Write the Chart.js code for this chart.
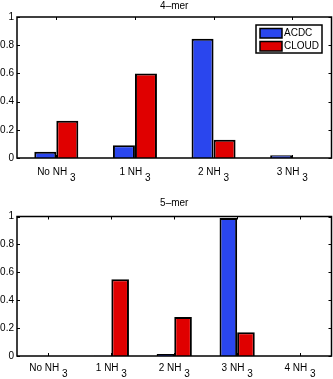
<!DOCTYPE html>
<html>
<head>
<meta charset="utf-8">
<script src="https://cdn.jsdelivr.net/npm/chart.js@4.4.0/dist/chart.umd.min.js"></script>
<style>
  html, body { margin: 0; padding: 0; background: #fff; }
  #wrap { position: relative; width: 333px; height: 379px; overflow: hidden; }
  .box { position: absolute; left: 0; width: 333px; }
</style>
</head>
<body>
<div id="wrap">
  <div class="box" style="top:0;height:190px"><canvas id="grafico1"></canvas></div>
  <div class="box" style="top:190px;height:189px"><canvas id="grafico2"></canvas></div>
</div>
<script>
// dados
const categorias4 = ['No NH', '1 NH', '2 NH', '3 NH'];
const acdc4 = [0.045, 0.09, 0.845, 0.02];
const cloud4 = [0.265, 0.60, 0.13, 0.0];

const categorias5 = ['No NH', '1 NH', '2 NH', '3 NH', '4 NH'];
const acdc5 = [0.0, 0.002, 0.015, 0.99, 0.0];
const cloud5 = [0.0, 0.55, 0.28, 0.17, 0.0];

const subscrito = '3';
const yTicks = [0, 0.2, 0.4, 0.6, 0.8, 1];

const azul = '#2a46ee';
const vermelho = '#e00000';
const fonte = '"Liberation Sans", Arial, sans-serif';

// desenha moldura, ticks internos, rotulos com subscrito, titulo e legenda
const moldura = {
    id: 'moldura',
    afterDraw(chart, args, opts) {
        const ctx = chart.ctx;
        const a = chart.chartArea;
        const x = chart.scales.x;
        const y = chart.scales.y;
        ctx.save();
        ctx.strokeStyle = '#000';
        ctx.lineWidth = 1;
        ctx.beginPath();
        for (const v of yTicks) {
            const py = Math.round(y.getPixelForValue(v)) + 0.5;
            ctx.moveTo(a.left, py); ctx.lineTo(a.left + 3, py);
            ctx.moveTo(a.right, py); ctx.lineTo(a.right - 3, py);
        }
        for (let i = 0; i < chart.data.labels.length; i++) {
            const px = Math.round(x.getPixelForTick(i)) + 0.5;
            ctx.moveTo(px, a.bottom); ctx.lineTo(px, a.bottom - 3);
            ctx.moveTo(px, a.top); ctx.lineTo(px, a.top + 3);
        }
        ctx.stroke();
        ctx.lineWidth = 1.5;
        ctx.strokeRect(a.left, a.top, a.right - a.left, a.bottom - a.top);

        // rotulos do eixo x
        ctx.fillStyle = '#000';
        ctx.font = '10px ' + fonte;
        ctx.textBaseline = 'middle';
        ctx.textAlign = 'left';
        for (let i = 0; i < chart.data.labels.length; i++) {
            const txt = chart.data.labels[i] + ' ';
            const w1 = ctx.measureText(txt).width;
            const w2 = ctx.measureText(subscrito).width;
            const x0 = x.getPixelForTick(i) - (w1 + w2) / 2;
            ctx.fillText(txt, x0, opts.labelY);
            ctx.fillText(subscrito, x0 + w1, opts.labelY + opts.subOffset);
        }

        // titulo
        ctx.textAlign = 'center';
        ctx.fillText(opts.titulo, (a.left + a.right) / 2, opts.tituloY);

        // legenda
        if (opts.legenda) {
            const L = opts.legenda;
            ctx.fillStyle = '#fff';
            ctx.fillRect(L.x, L.y, L.w, L.h);
            ctx.lineWidth = 1.5;
            ctx.strokeRect(L.x, L.y, L.w, L.h);
            ctx.textAlign = 'left';
            chart.data.datasets.forEach(function (ds, k) {
                const sy = L.y + 3.5 + k * 13;
                ctx.fillStyle = ds.backgroundColor;
                ctx.fillRect(L.x + 4, sy, 22, 9.5);
                ctx.lineWidth = 1.5;
                ctx.strokeRect(L.x + 4, sy, 22, 9.5);
                ctx.fillStyle = '#000';
                ctx.fillText(ds.label, L.x + 28, sy + 5);
            });
        }
        ctx.restore();
    }
};

function criarGrafico(id, labels, acdc, cloud, cfg) {
    return new Chart(document.getElementById(id), {
        type: 'bar',
        data: {
            labels: labels,
            datasets: [
                { label: 'ACDC', data: acdc, backgroundColor: azul, borderColor: '#000', borderWidth: 2 },
                { label: 'CLOUD', data: cloud, backgroundColor: vermelho, borderColor: '#000', borderWidth: 2 }
            ]
        },
        options: {
            responsive: true,
            maintainAspectRatio: false,
            animation: false,
            categoryPercentage: 0.56,
            barPercentage: 1,
            layout: { padding: { top: cfg.top, right: 1.5, left: 0, bottom: 0 } },
            plugins: {
                legend: { display: false },
                tooltip: { enabled: false },
                moldura: cfg
            },
            scales: {
                x: {
                    grid: { display: false },
                    border: { display: false },
                    ticks: { display: false },
                    afterFit: function (s) { s.height = cfg.xHeight; }
                },
                y: {
                    min: 0,
                    max: 1,
                    grid: { display: false, drawTicks: false },
                    border: { display: false },
                    afterBuildTicks: function (s) { s.ticks = yTicks.map(v => ({ value: v })); },
                    ticks: {
                        padding: 3,
                        color: '#000',
                        font: { family: fonte, size: 10 },
                        callback: function (v) { return String(v); }
                    },
                    afterFit: function (s) { s.width = 17; }
                }
            }
        },
        plugins: [moldura]
    });
}

criarGrafico('grafico1', categorias4, acdc4, cloud4, {
    top: 17, xHeight: 32, labelY: 172, subOffset: 6, titulo: '4\u2013mer', tituloY: 6,
    legenda: { x: 256, y: 25, w: 66, h: 28 }
});

criarGrafico('grafico2', categorias5, acdc5, cloud5, {
    top: 26.5, xHeight: 23, labelY: 178, subOffset: 6, titulo: '5\u2013mer', tituloY: 13
});
</script>
</body>
</html>
